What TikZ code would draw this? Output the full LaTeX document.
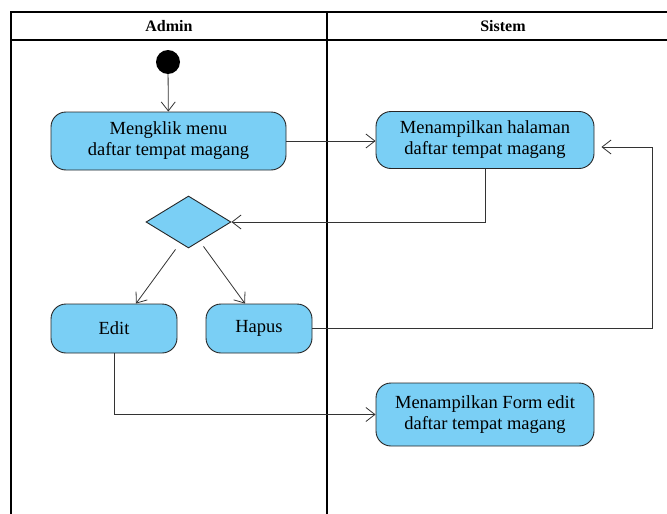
\documentclass[tikz,border=0pt]{standalone}
\usepackage{fontspec}
\setmainfont{LiberationSerif}[Extension=.ttf,UprightFont=*-Regular,BoldFont=*-Bold]
\usetikzlibrary{shapes.geometric,arrows.meta,calc}
\definecolor{actfill}{HTML}{7ACFF5}
\definecolor{lineclr}{HTML}{333333}
\begin{document}
\begin{tikzpicture}[x=1pt,y=-1pt,
  action/.style={draw=black!85,fill=actfill,rounded corners=15pt,line width=0.9pt,
    align=center,inner sep=0pt,font=\fontsize{18.5}{21}\selectfont},
  decision/.style={draw=black!85,fill=actfill,diamond,aspect=1.63,inner sep=0pt,
    minimum width=85pt,minimum height=52pt,line width=0.9pt},
  flow/.style={draw=lineclr,line width=0.8pt,-{Straight Barb[length=9pt,width=14pt]}},
  lane/.style={draw=black,line width=1.2pt},
  header/.style={font=\fontsize{16}{18}\selectfont\bfseries}]
\useasboundingbox (0,0) rectangle (667,514);

% swimlane frame
\draw[lane] (667,12) -- (11,12) -- (11,514);
\draw[lane] (11,40) -- (667,40);
\draw[lane] (327,12) -- (327,514);
\node[header] (hadmin) at (169,26) {Admin};
\node[header] (hsistem) at (503,26) {Sistem};

% nodes
\node[circle,fill=black,minimum size=24pt,inner sep=0pt] (start) at (168,62) {};
\node[action,minimum width=235pt,minimum height=58pt] (m1) at (168.5,141)
  {Mengklik menu\\daftar tempat magang};
\node[action,minimum width=218pt,minimum height=57pt] (m2) at (485,140)
  {Menampilkan halaman\\daftar tempat magang};
\node[decision] (d) at (188.5,222) {};
\node[action,minimum width=126pt,minimum height=49pt] (e) at (114,328.5) {Edit};
\node[action,minimum width=106pt,minimum height=49pt] (h) at (259,328.5) {Hapus};
\node[action,minimum width=218pt,minimum height=63pt] (f) at (485,414.5)
  {Menampilkan Form edit\\daftar tempat magang};
\coordinate (loop) at (652,147);

% connectors
\draw[flow] (start) -- (m1);
\draw[flow] (m1.east) -- (m1.east -| m2.west);
\draw[flow] (m2.south) |- (d.east);
\draw[flow] ($(d.south)+(-13,1)$) -- ([xshift=22pt]e.north);
\draw[flow] ($(d.south)+(15,-2)$) -- ([xshift=-14pt]h.north);
\draw[flow] (h.east) -| (loop) -- ($(m2.east)+(7,7)$);
\draw[flow] (e.south) |- (f.west);
\end{tikzpicture}
\end{document}
